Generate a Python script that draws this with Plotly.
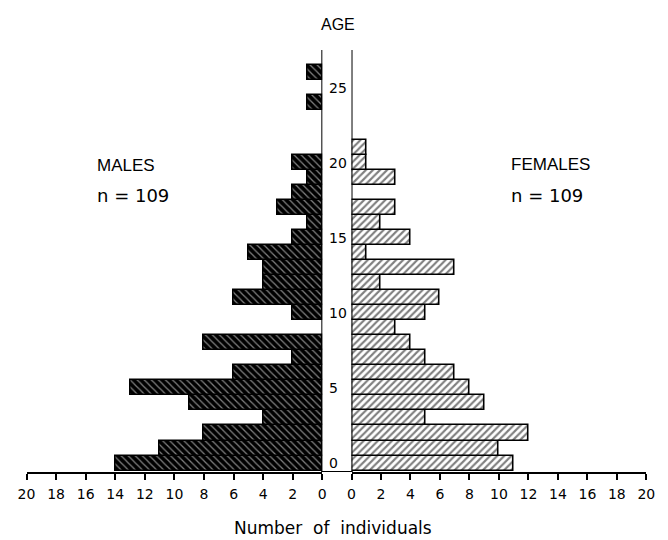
import plotly.graph_objects as go

# ---- data ----
ages = list(range(27))
males = [14, 11, 8, 4, 9, 13, 6, 2, 8, 0, 2, 6, 4, 4, 5, 2, 1, 3, 2, 1, 2, 0, 0, 0, 1, 0, 1]
females = [11, 10, 12, 5, 9, 8, 7, 5, 4, 3, 5, 6, 2, 7, 1, 4, 2, 3, 0, 3, 1, 1, 0, 0, 0, 0, 0]
age_labels = [0, 5, 10, 15, 20, 25]
x_ticks = list(range(0, 21, 2))

W, H = 668, 540
FONT = "Liberation Sans, Arial, Helvetica, sans-serif"
WIDE = "DejaVu Sans, Verdana, sans-serif"

def px(x):
    return x / W

def py(y):
    return 1 - y / H

m_age = [a for a, v in zip(ages, males) if v > 0]
m_val = [v for v in males if v > 0]
f_age = [a for a, v in zip(ages, females) if v > 0]
f_val = [v for v in females if v > 0]

fig = go.Figure()
fig.add_trace(go.Bar(
    y=m_age, x=m_val, orientation="h", xaxis="x", yaxis="y", width=1,
    marker=dict(color="black", line=dict(color="black", width=1.5),
                pattern=dict(shape="\\", bgcolor="black", fgcolor="white",
                             size=5, solidity=0.25)),
    showlegend=False, hoverinfo="skip"))
fig.add_trace(go.Bar(
    y=f_age, x=f_val, orientation="h", xaxis="x2", yaxis="y", width=1,
    marker=dict(color="white", line=dict(color="black", width=1.6),
                pattern=dict(shape="/", bgcolor="white", fgcolor="black",
                             size=5, solidity=0.42)),
    showlegend=False, hoverinfo="skip"))

y_bottom, y_top = -0.6, 27.53
axis_common = dict(
    tickvals=x_ticks, ticktext=[str(t) for t in x_ticks],
    ticks="outside", ticklen=6, tickwidth=1.5, tickcolor="black",
    showline=True, linecolor="black", linewidth=2,
    showgrid=False, zeroline=False, anchor="y",
    tickfont=dict(family=WIDE, size=14, color="black"),
    ticklabelstandoff=2,
    fixedrange=True,
)
fig.update_layout(
    width=W, height=H,
    margin=dict(l=0, r=0, t=0, b=0),
    paper_bgcolor="white", plot_bgcolor="rgba(0,0,0,0)",
    bargap=0,
    xaxis=dict(domain=[px(18), px(322)], range=[20, 0], **axis_common),
    xaxis2=dict(domain=[px(352), px(655)], range=[0, 20], **axis_common),
    yaxis=dict(domain=[py(472), py(50)], range=[y_bottom, y_top],
               visible=False, fixedrange=True),
)

shapes = [
    dict(type="line", xref="x", yref="y", x0=0, x1=0, y0=y_bottom, y1=y_top,
         line=dict(color="black", width=2)),
    dict(type="line", xref="x2", yref="y", x0=0, x1=0, y0=y_bottom, y1=y_top,
         line=dict(color="black", width=2)),
    dict(type="line", xref="paper", yref="y", x0=px(321), x1=px(353),
         y0=y_bottom, y1=y_bottom, line=dict(color="black", width=2)),
]
fig.update_layout(shapes=shapes)

ann = []
for a in age_labels:
    ann.append(dict(x=px(327), y=a, xref="paper", yref="y", text=str(a),
                    showarrow=False, xanchor="left", yanchor="middle",
                    font=dict(family=WIDE, size=14, color="black")))

def txt(x, y, s, size, family, xanchor="left"):
    return dict(x=px(x), y=py(y), xref="paper", yref="paper", text=s,
                showarrow=False, xanchor=xanchor, yanchor="middle",
                font=dict(family=family, size=size, color="black"))

ann += [
    txt(338, 25, "AGE", 16, FONT, "center"),
    txt(333, 528, "Number\u00a0 of\u00a0 individuals", 17, WIDE, "center"),
    txt(88, 165, "MALES", 17, FONT),
    txt(88, 195, "n = 109", 18, WIDE),
    txt(514, 164, "FEMALES", 17, FONT),
    txt(514, 195, "n = 109", 18, WIDE),
]
fig.update_layout(annotations=ann)

fig.write_html("out.html")
